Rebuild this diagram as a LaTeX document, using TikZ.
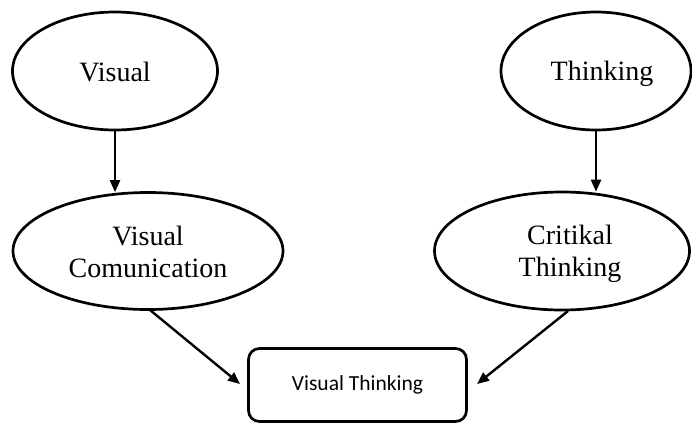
\documentclass[tikz,border=0pt]{standalone}
\usepackage{fontspec}
\setmainfont{Liberation Serif}
\newfontfamily\boxfont{Carlito}
\usetikzlibrary{shapes.geometric,arrows.meta}
\newcommand\lnstrut{\rule[-6pt]{0pt}{32pt}}
\begin{document}
\begin{tikzpicture}[x=1pt,y=-1pt,
  oval/.style={ellipse,draw,line width=2.7pt,inner sep=0pt,align=center,
    font=\fontsize{28}{32}\selectfont},
  tbox/.style={draw,rounded corners=11pt,line width=2.7pt,inner sep=0pt,
    font=\boxfont\fontsize{21.5}{25}\selectfont},
  conn/.style={line width=2.4pt,-{Triangle[length=12pt,width=10pt]}}]
\useasboundingbox (0,0) rectangle (692,423);
\node[oval,minimum width=205pt,minimum height=118pt] (vis) at (115,71) {\lnstrut Visual};
\node[oval,minimum width=190pt,minimum height=118pt] (thk) at (596,71) {\lnstrut\hspace{12pt}Thinking};
\node[oval,minimum width=270pt,minimum height=117pt] (vc) at (148,251) {\lnstrut Visual\\\lnstrut Comunication};
\node[oval,minimum width=255pt,minimum height=118pt] (ct) at (562,251) {\lnstrut\hspace{16pt}Critikal\\\lnstrut\hspace{16pt}Thinking};
\node[tbox,minimum width=218pt,minimum height=73pt] (vt) at (357.5,385) {Visual Thinking};
\coordinate (vcs) at (150,310);
\coordinate (cts) at (568,311);
\draw[conn] (vis.south) -- ([yshift=-1pt]vc.north -| vis.south);
\draw[conn] (thk.south) -- ([yshift=-1pt]ct.north -| thk.south);
\draw[conn] (vcs) -- (240,384);
\draw[conn] (cts) -- (477,384);
\end{tikzpicture}
\end{document}
